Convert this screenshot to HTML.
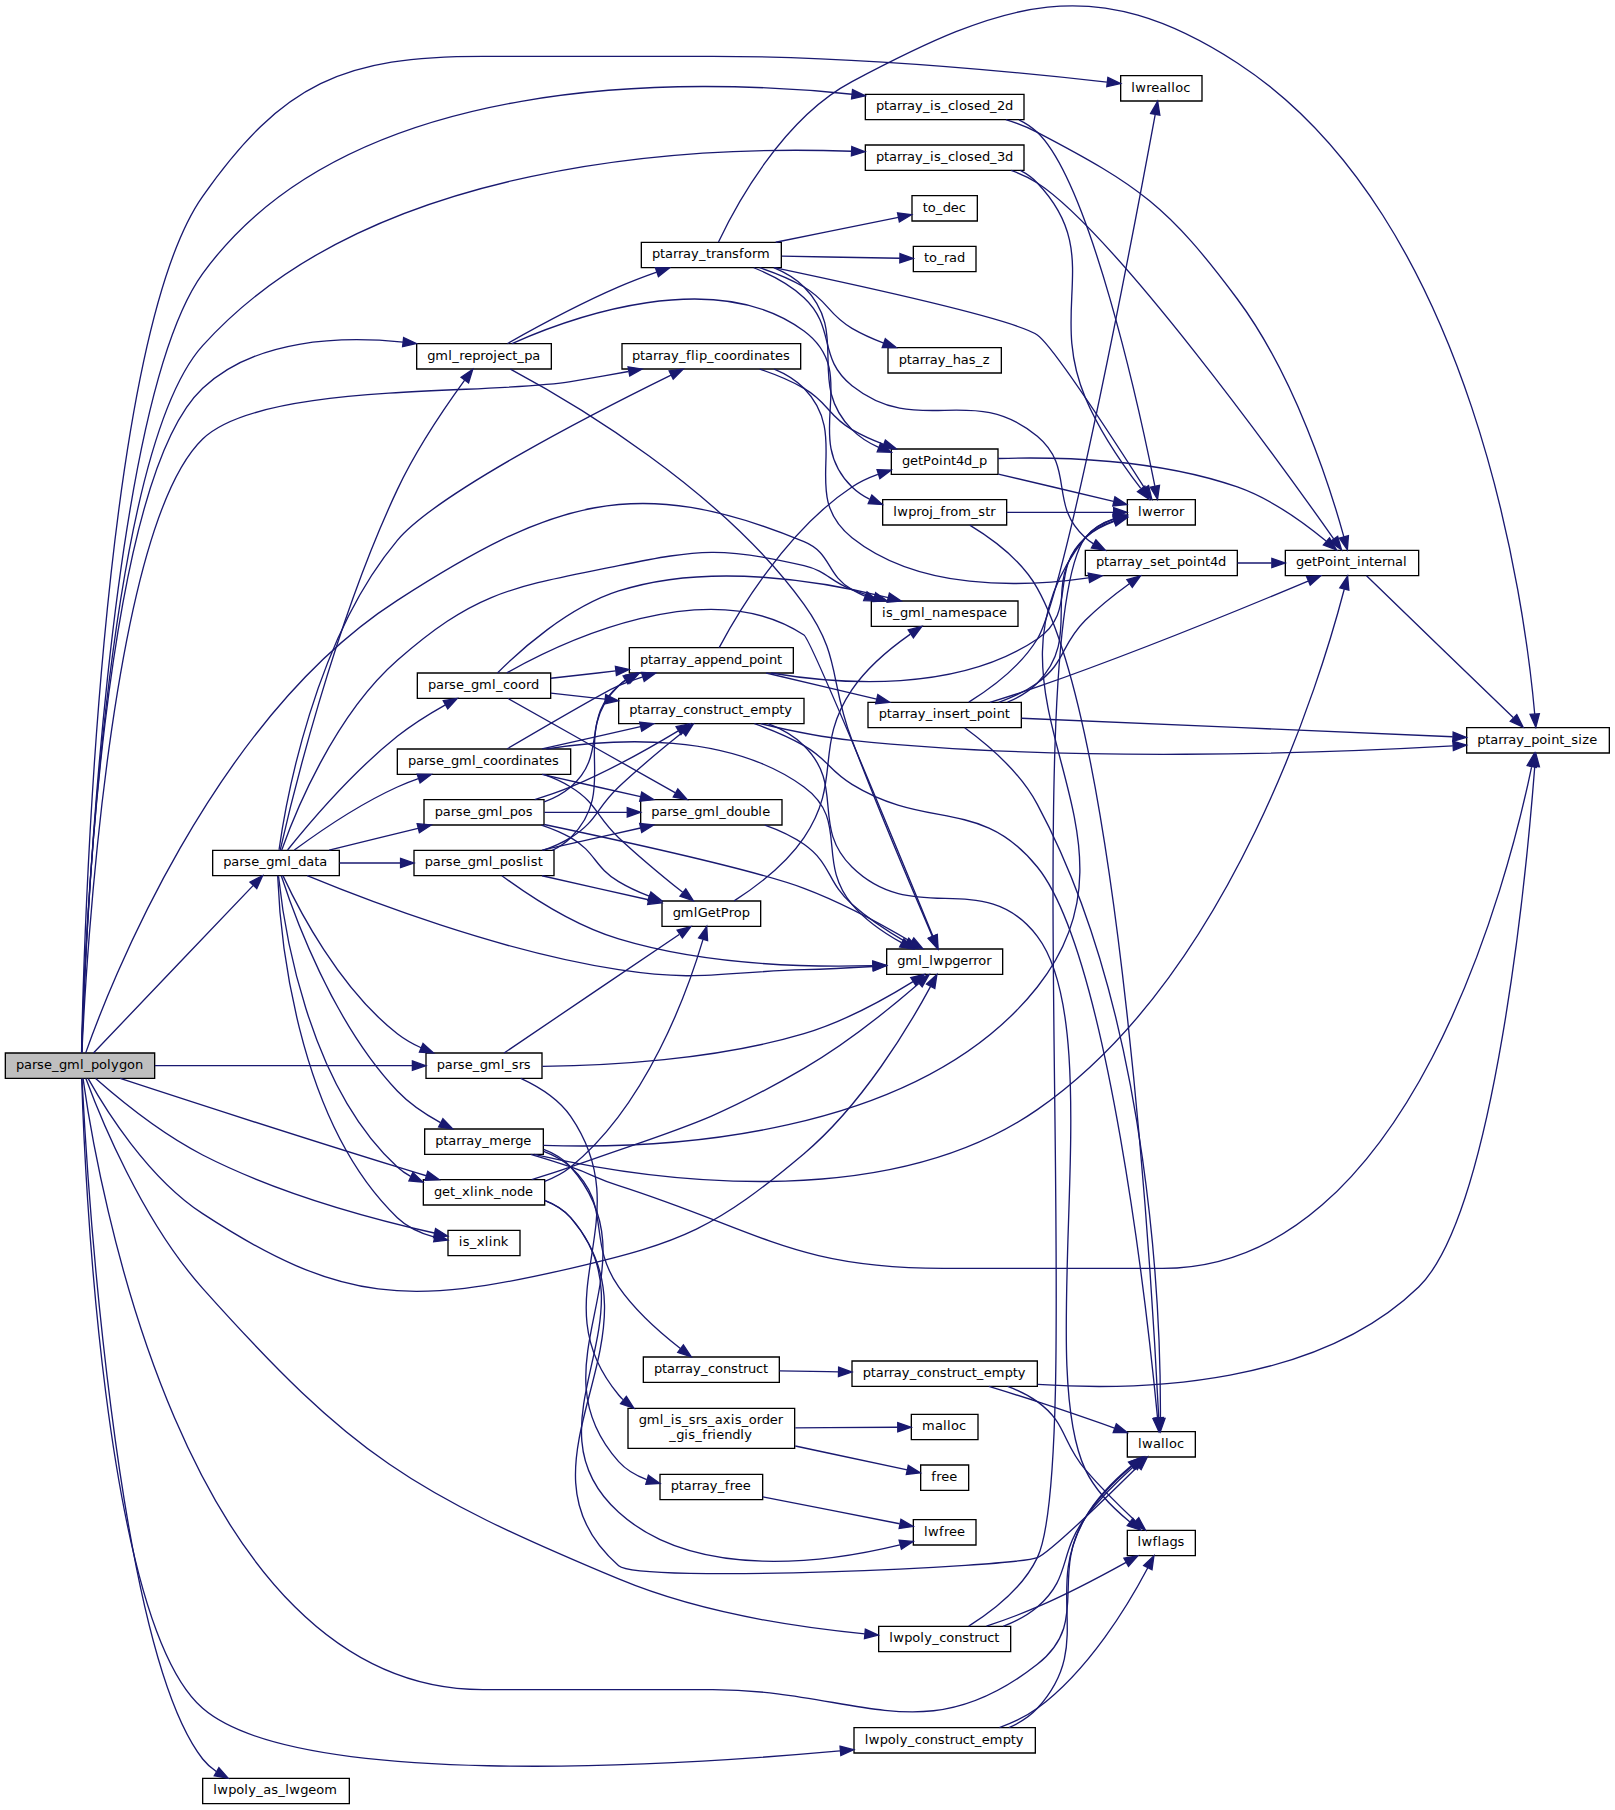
<!DOCTYPE html>
<html lang="en">
<head>
<meta charset="utf-8">
<title>parse_gml_polygon call graph</title>
<style>
html,body{margin:0;padding:0;background:#fff;}
body{width:1615px;height:1810px;overflow:hidden;}
svg{display:block;}
svg text{font-family:"DejaVu Sans","Liberation Sans",sans-serif;font-size:9.75px;fill:#000;text-anchor:start;}
</style>
</head>
<body>
<svg width="1615" height="1810" viewBox="0 0 1211.25 1357.5">
<g id="graph0" class="graph" transform="scale(1 1) rotate(0) translate(4 1353.24)">
<polygon fill="white" stroke="none" points="-4,4 -4,-1353.24 1207,-1353.24 1207,4 -4,4"/>
<g class="node">
<polygon fill="#bfbfbf" stroke="black" points="0,-544.5 0,-563.5 112,-563.5 112,-544.5 0,-544.5"/>
<text x="8 14 20 23.75 29 35 40.25 46.25 56 59 64.25 70.25 76.25 79.25 85.25 91.25 97.25" y="-551.50">parse_gml_polygon</text>
</g>
<g class="node">
<polygon fill="white" stroke="black" points="313.5,-449.5 313.5,-468.5 404.5,-468.5 404.5,-449.5 313.5,-449.5"/>
<text x="321.5 327.5 333.5 337.25 342.5 348.5 351.5 354.5 360.5 366.5 371.75 377.75 383.75 389.75" y="-456.50">get_xlink_node</text>
</g>
<g class="edge">
<path fill="none" stroke="midnightblue" d="M86.12,-544.44C130.77,-529.82 218.86,-501.2 294,-478 301,-475.84 308.45,-473.58 315.7,-471.42"/>
<polygon fill="midnightblue" stroke="midnightblue" points="316.81,-474.74 325.4,-468.53 314.82,-468.03 316.81,-474.74"/>
</g>
<g class="node">
<polygon fill="white" stroke="black" points="661,-622.5 661,-641.5 748,-641.5 748,-622.5 661,-622.5"/>
<text x="668.875 674.875 684.625 687.625 692.875 695.875 704.125 710.125 716.125 722.125 725.875 729.625 735.625" y="-629.50">gml_lwpgerror</text>
</g>
<g class="edge">
<path fill="none" stroke="midnightblue" d="M62.17,-544.3C74.21,-522.68 106.28,-470.27 148,-443 251.8,-375.15 303.21,-373.92 424,-402 508.41,-421.62 532.71,-432.18 599,-488 642.73,-524.83 677.85,-583.67 693.95,-613.45"/>
<polygon fill="midnightblue" stroke="midnightblue" points="690.9,-615.16 698.67,-622.36 697.08,-611.88 690.9,-615.16"/>
</g>
<g class="node">
<polygon fill="white" stroke="black" points="649.5,-883.5 649.5,-902.5 759.5,-902.5 759.5,-883.5 649.5,-883.5"/>
<text x="657.438 660.438 665.688 670.938 676.938 686.688 689.688 694.938 700.938 706.938 716.688 722.688 727.938 733.938 739.938 745.188" y="-890.50">is_gml_namespace</text>
</g>
<g class="edge">
<path fill="none" stroke="midnightblue" d="M60.27,-563.57C76.66,-610.02 154.78,-813.47 294,-903 409.2,-977.08 472.47,-999.41 599,-947 619.91,-938.34 615.38,-922.27 635,-911 638.08,-909.23 641.34,-907.63 644.69,-906.19"/>
<polygon fill="midnightblue" stroke="midnightblue" points="646.24,-909.35 654.33,-902.52 643.74,-902.81 646.24,-909.35"/>
</g>
<g class="node">
<polygon fill="white" stroke="black" points="841.5,-260.5 841.5,-279.5 892.5,-279.5 892.5,-260.5 841.5,-260.5"/>
<text x="849.469 852.469 860.719 866.719 869.719 872.719 878.719" y="-267.50">lwalloc</text>
</g>
<g class="edge">
<path fill="none" stroke="midnightblue" d="M58.28,-544.23C67.66,-477.02 131.95,-86 358,-86 358,-86 358,-86 530.5,-86 639.05,-86 688.66,-37.92 774,-105 814.44,-136.79 782.88,-171.29 810,-215 819.25,-229.91 833.36,-243.73 845.1,-253.79"/>
<polygon fill="midnightblue" stroke="midnightblue" points="843.19,-256.75 853.13,-260.41 847.64,-251.35 843.19,-256.75"/>
</g>
<g class="node">
<polygon fill="white" stroke="black" points="308.5,-1076.5 308.5,-1095.5 409.5,-1095.5 409.5,-1076.5 308.5,-1076.5"/>
<text x="316.438 322.438 332.188 335.188 340.438 344.188 350.188 356.188 359.938 365.938 368.938 374.938 380.188 383.938 389.188 395.188" y="-1083.50">gml_reproject_pa</text>
</g>
<g class="edge">
<path fill="none" stroke="midnightblue" d="M57.23,-563.84C58.94,-628.35 71.89,-990.57 148,-1062 187.51,-1099.08 251.31,-1101.37 298.23,-1096.67"/>
<polygon fill="midnightblue" stroke="midnightblue" points="298.73,-1100.13 308.27,-1095.53 297.94,-1093.18 298.73,-1100.13"/>
</g>
<g class="node">
<polygon fill="white" stroke="black" points="332,-411.5 332,-430.5 386,-430.5 386,-411.5 332,-411.5"/>
<text x="340.062 343.062 348.312 353.562 359.562 362.562 365.562 371.562" y="-418.50">is_xlink</text>
</g>
<g class="edge">
<path fill="none" stroke="midnightblue" d="M67.72,-544.28C83.99,-529.97 116.39,-503.18 148,-487 205.51,-457.56 278.65,-438.22 321.69,-428.48"/>
<polygon fill="midnightblue" stroke="midnightblue" points="322.69,-431.84 331.7,-426.27 321.18,-425.01 322.69,-431.84"/>
</g>
<g class="node">
<polygon fill="white" stroke="black" points="148,-0.5 148,-19.5 258,-19.5 258,-0.5 148,-0.5"/>
<text x="155.938 158.938 167.188 173.188 179.188 182.188 188.188 193.438 199.438 204.688 209.938 212.938 221.188 227.188 233.188 239.188" y="-7.50">lwpoly_as_lwgeom</text>
</g>
<g class="edge">
<path fill="none" stroke="midnightblue" d="M57.48,-544.2C60.81,-479.88 82.29,-118.16 148,-34 150.85,-30.35 154.37,-27.25 158.23,-24.6"/>
<polygon fill="midnightblue" stroke="midnightblue" points="160.18,-27.52 167.13,-19.53 156.71,-21.44 160.18,-27.52"/>
</g>
<g class="node">
<polygon fill="white" stroke="black" points="655,-114.5 655,-133.5 754,-133.5 754,-114.5 655,-114.5"/>
<text x="662.875 665.875 674.125 680.125 686.125 689.125 695.125 700.375 705.625 711.625 717.625 722.875 726.625 730.375 736.375 741.625" y="-121.50">lwpoly_construct</text>
</g>
<g class="edge">
<path fill="none" stroke="midnightblue" d="M60.42,-544.38C70.45,-517.19 101.98,-438.43 148,-387 260.8,-260.94 303.95,-234.3 460,-169 519.92,-143.93 593.93,-132.78 644.53,-127.85"/>
<polygon fill="midnightblue" stroke="midnightblue" points="645,-131.32 654.64,-126.91 644.36,-124.35 645,-131.32"/>
</g>
<g class="node">
<polygon fill="white" stroke="black" points="636.5,-38.5 636.5,-57.5 772.5,-57.5 772.5,-38.5 636.5,-38.5"/>
<text x="644.5 647.5 655.75 661.75 667.75 670.75 676.75 682 687.25 693.25 699.25 704.5 708.25 712 718 723.25 727 732.25 738.25 748 754 757.75" y="-45.50">lwpoly_construct_empty</text>
</g>
<g class="edge">
<path fill="none" stroke="midnightblue" d="M57.27,-544.2C59.2,-481.47 73.16,-136.81 148,-72 217.39,-11.91 490.23,-27.85 625.96,-40.03"/>
<polygon fill="midnightblue" stroke="midnightblue" points="626.01,-43.54 636.28,-40.97 626.64,-36.57 626.01,-43.54"/>
</g>
<g class="node">
<polygon fill="white" stroke="black" points="836.5,-1277.5 836.5,-1296.5 897.5,-1296.5 897.5,-1277.5 836.5,-1277.5"/>
<text x="844.5 847.5 855.75 859.5 865.5 871.5 874.5 877.5 883.5" y="-1284.50">lwrealloc</text>
</g>
<g class="edge">
<path fill="none" stroke="midnightblue" d="M57.16,-563.76C58.56,-636.63 70.38,-1096.06 148,-1206 208.19,-1291.24 253.65,-1311 358,-1311 358,-1311 358,-1311 530.5,-1311 637.59,-1311 763.42,-1298.68 826.19,-1291.7"/>
<polygon fill="midnightblue" stroke="midnightblue" points="826.89,-1295.14 836.43,-1290.54 826.1,-1288.18 826.89,-1295.14"/>
</g>
<g class="node">
<polygon fill="white" stroke="black" points="155.5,-696.5 155.5,-715.5 250.5,-715.5 250.5,-696.5 155.5,-696.5"/>
<text x="163.438 169.438 175.438 179.188 184.438 190.438 195.688 201.688 211.438 214.438 219.688 225.688 231.688 235.438" y="-703.50">parse_gml_data</text>
</g>
<g class="edge">
<path fill="none" stroke="midnightblue" d="M66.07,-563.51C90.08,-588.67 155.51,-657.26 185.98,-689.21"/>
<polygon fill="midnightblue" stroke="midnightblue" points="183.5,-691.68 192.93,-696.5 188.56,-686.84 183.5,-691.68"/>
</g>
<g class="node">
<polygon fill="white" stroke="black" points="315.5,-544.5 315.5,-563.5 402.5,-563.5 402.5,-544.5 315.5,-544.5"/>
<text x="323.562 329.562 335.562 339.312 344.562 350.562 355.812 361.812 371.562 374.562 379.812 385.062 388.812" y="-551.50">parse_gml_srs</text>
</g>
<g class="edge">
<path fill="none" stroke="midnightblue" d="M112.21,-554C167.22,-554 251.08,-554 305.22,-554"/>
<polygon fill="midnightblue" stroke="midnightblue" points="305.3,-557.5 315.3,-554 305.3,-550.5 305.3,-557.5"/>
</g>
<g class="node">
<polygon fill="white" stroke="black" points="462.5,-1076.5 462.5,-1095.5 596.5,-1095.5 596.5,-1076.5 462.5,-1076.5"/>
<text x="469.969 475.969 479.719 485.719 489.469 493.219 499.219 505.219 510.469 514.219 517.219 520.219 526.219 531.469 536.719 542.719 548.719 552.469 558.469 561.469 567.469 573.469 577.219 583.219" y="-1083.50">ptarray_flip_coordinates</text>
</g>
<g class="edge">
<path fill="none" stroke="midnightblue" d="M57.42,-563.85C60.25,-625.45 78.59,-957.09 148,-1024 192.69,-1067.08 362.79,-1056.67 424,-1067 438.05,-1069.37 453.13,-1072.04 467.35,-1074.61"/>
<polygon fill="midnightblue" stroke="midnightblue" points="467.05,-1078.12 477.52,-1076.46 468.31,-1071.23 467.05,-1078.12"/>
</g>
<g class="node">
<polygon fill="white" stroke="black" points="645,-1263.5 645,-1282.5 764,-1282.5 764,-1263.5 645,-1263.5"/>
<text x="652.938 658.938 662.688 668.688 672.438 676.188 682.188 688.188 693.438 696.438 701.688 706.938 712.188 715.188 721.188 726.438 732.438 738.438 743.688 749.688" y="-1270.50">ptarray_is_closed_2d</text>
</g>
<g class="edge">
<path fill="none" stroke="midnightblue" d="M57.3,-563.77C59.59,-632.94 76.24,-1048.93 148,-1148 258.55,-1300.62 512.51,-1295.25 634.98,-1282.56"/>
<polygon fill="midnightblue" stroke="midnightblue" points="635.42,-1286.03 644.99,-1281.48 634.67,-1279.08 635.42,-1286.03"/>
</g>
<g class="node">
<polygon fill="white" stroke="black" points="645,-1225.5 645,-1244.5 764,-1244.5 764,-1225.5 645,-1225.5"/>
<text x="652.938 658.938 662.688 668.688 672.438 676.188 682.188 688.188 693.438 696.438 701.688 706.938 712.188 715.188 721.188 726.438 732.438 738.438 743.688 749.688" y="-1232.50">ptarray_is_closed_3d</text>
</g>
<g class="edge">
<path fill="none" stroke="midnightblue" d="M57.26,-563.87C59.24,-630.25 73.74,-1011.5 148,-1094 273.65,-1233.58 515.99,-1243.99 634.65,-1239.82"/>
<polygon fill="midnightblue" stroke="midnightblue" points="634.85,-1243.31 644.7,-1239.42 634.57,-1236.32 634.85,-1243.31"/>
</g>
<g class="edge">
<path fill="none" stroke="midnightblue" d="M394.77,-468.56C404.32,-471.39 414.62,-474.64 424,-478 503.49,-506.51 526,-509.55 599,-552 631.32,-570.79 665.01,-598.25 685.12,-615.61"/>
<polygon fill="midnightblue" stroke="midnightblue" points="683.04,-618.43 692.87,-622.38 687.64,-613.16 683.04,-618.43"/>
</g>
<g class="node">
<polygon fill="white" stroke="black" points="492.5,-658.5 492.5,-677.5 566.5,-677.5 566.5,-658.5 492.5,-658.5"/>
<text x="500.531 506.531 516.281 519.281 526.781 532.781 536.531 542.531 546.281 552.281" y="-665.50">gmlGetProp</text>
</g>
<g class="edge">
<path fill="none" stroke="midnightblue" d="M404.58,-467.3C411.55,-469.94 418.31,-473.42 424,-478 481.09,-524.01 511.8,-609.99 523.22,-648.49"/>
<polygon fill="midnightblue" stroke="midnightblue" points="519.95,-649.76 526.05,-658.42 526.68,-647.84 519.95,-649.76"/>
</g>
<g class="edge">
<path fill="none" stroke="midnightblue" d="M404.54,-452.98C411.94,-450.12 418.86,-445.98 424,-440 500.3,-351.17 371.72,-255.94 460,-179 475.53,-165.46 757.13,-178.07 774,-185 783.08,-188.73 825.13,-229.5 849.12,-253.19"/>
<polygon fill="midnightblue" stroke="midnightblue" points="846.92,-255.94 856.48,-260.49 851.85,-250.97 846.92,-255.94"/>
</g>
<g class="node">
<polygon fill="white" stroke="black" points="681,-194.5 681,-213.5 728,-213.5 728,-194.5 681,-194.5"/>
<text x="688.938 691.938 700.188 703.938 707.688 713.688" y="-201.50">lwfree</text>
</g>
<g class="edge">
<path fill="none" stroke="midnightblue" d="M404.75,-452.75C412.04,-449.91 418.87,-445.83 424,-440 489.76,-365.3 386.2,-285.77 460,-219 518.03,-166.5 619.14,-181.97 670.91,-194.64"/>
<polygon fill="midnightblue" stroke="midnightblue" points="670.33,-198.11 680.88,-197.2 672.07,-191.33 670.33,-198.11"/>
</g>
<g class="edge">
<path fill="none" stroke="midnightblue" d="M546.61,-677.58C562.12,-687.58 585.21,-704.63 599,-725 628.08,-767.94 605.92,-793.06 635,-836 646.42,-852.87 664.22,-867.46 678.81,-877.66"/>
<polygon fill="midnightblue" stroke="midnightblue" points="677.14,-880.76 687.39,-883.42 681.04,-874.94 677.14,-880.76"/>
</g>
<g class="edge">
<path fill="none" stroke="midnightblue" d="M378.8,-1076.34C423.44,-1052.49 536.76,-986.38 599,-900 627.1,-861 617.83,-842.9 635,-798 655.52,-744.34 681.99,-681.92 695.21,-651.15"/>
<polygon fill="midnightblue" stroke="midnightblue" points="698.56,-652.23 699.31,-641.66 692.14,-649.46 698.56,-652.23"/>
</g>
<g class="node">
<polygon fill="white" stroke="black" points="658,-959.5 658,-978.5 751,-978.5 751,-959.5 658,-959.5"/>
<text x="665.875 668.875 677.125 683.125 686.875 692.875 695.875 701.125 704.875 708.625 714.625 724.375 729.625 734.875 738.625" y="-966.50">lwproj_from_str</text>
</g>
<g class="edge">
<path fill="none" stroke="midnightblue" d="M380.03,-1095.58C424.37,-1115.24 532.2,-1154.33 599,-1105 642.76,-1072.68 596,-1025.93 635,-988 638.83,-984.28 643.32,-981.27 648.14,-978.84"/>
<polygon fill="midnightblue" stroke="midnightblue" points="649.84,-981.93 657.73,-974.86 647.15,-975.46 649.84,-981.93"/>
</g>
<g class="node">
<polygon fill="white" stroke="black" points="477,-1152.5 477,-1171.5 582,-1171.5 582,-1152.5 477,-1152.5"/>
<text x="484.969 490.969 494.719 500.719 504.469 508.219 514.219 520.219 525.469 529.219 532.969 538.969 544.969 550.219 553.969 559.969 563.719" y="-1159.50">ptarray_transform</text>
</g>
<g class="edge">
<path fill="none" stroke="midnightblue" d="M376.63,-1095.58C396.19,-1106.63 429.83,-1124.95 460,-1138 469.1,-1141.94 479.07,-1145.72 488.53,-1149.07"/>
<polygon fill="midnightblue" stroke="midnightblue" points="487.54,-1152.43 498.13,-1152.4 489.83,-1145.82 487.54,-1152.43"/>
</g>
<g class="edge">
<path fill="none" stroke="midnightblue" d="M723.3,-959.35C739.37,-949.63 762.23,-933.07 774,-912 836.01,-801.02 860.21,-386.28 865.05,-290.04"/>
<polygon fill="midnightblue" stroke="midnightblue" points="868.55,-290.08 865.55,-279.92 861.56,-289.74 868.55,-290.08"/>
</g>
<g class="node">
<polygon fill="white" stroke="black" points="841.5,-959.5 841.5,-978.5 892.5,-978.5 892.5,-959.5 841.5,-959.5"/>
<text x="849.469 852.469 860.719 866.719 870.469 874.219 880.219" y="-966.50">lwerror</text>
</g>
<g class="edge">
<path fill="none" stroke="midnightblue" d="M751.06,-969C776.46,-969 807.6,-969 831.05,-969"/>
<polygon fill="midnightblue" stroke="midnightblue" points="831.24,-972.5 841.24,-969 831.24,-965.5 831.24,-972.5"/>
</g>
<g class="edge">
<path fill="none" stroke="midnightblue" d="M576.78,-1152.45C642.77,-1138.55 757.78,-1113.18 774,-1102 785.2,-1094.28 832.16,-1022.04 854.32,-987.38"/>
<polygon fill="midnightblue" stroke="midnightblue" points="857.44,-989 859.87,-978.69 851.54,-985.24 857.44,-989"/>
</g>
<g class="node">
<polygon fill="white" stroke="black" points="664.5,-997.5 664.5,-1016.5 744.5,-1016.5 744.5,-997.5 664.5,-997.5"/>
<text x="672.438 678.438 684.438 688.188 694.188 700.188 703.188 709.188 712.938 718.938 724.938 730.188" y="-1004.50">getPoint4d_p</text>
</g>
<g class="edge">
<path fill="none" stroke="midnightblue" d="M576.27,-1152.49C584.64,-1149.05 592.71,-1144.37 599,-1138 634.26,-1102.3 599.74,-1066.7 635,-1031 640.6,-1025.33 647.62,-1020.99 655.01,-1017.68"/>
<polygon fill="midnightblue" stroke="midnightblue" points="656.44,-1020.88 664.5,-1014.01 653.91,-1014.35 656.44,-1020.88"/>
</g>
<g class="node">
<polygon fill="white" stroke="black" points="1096,-788.5 1096,-807.5 1203,-807.5 1203,-788.5 1096,-788.5"/>
<text x="1103.938 1109.938 1113.688 1119.688 1123.438 1127.188 1133.188 1139.188 1144.438 1150.438 1156.438 1159.438 1165.438 1169.188 1174.438 1179.688 1182.688 1187.938" y="-795.50">ptarray_point_size</text>
</g>
<g class="edge">
<path fill="none" stroke="midnightblue" d="M534.87,-1171.75C546.74,-1196.92 582.28,-1264.1 635,-1292 748.66,-1352.15 816.25,-1376.19 924,-1306 1102.27,-1189.88 1140.01,-896.54 1147.04,-817.74"/>
<polygon fill="midnightblue" stroke="midnightblue" points="1150.53,-817.97 1147.86,-807.72 1143.55,-817.4 1150.53,-817.97"/>
</g>
<g class="node">
<polygon fill="white" stroke="black" points="662,-1073.5 662,-1092.5 747,-1092.5 747,-1073.5 662,-1073.5"/>
<text x="670 676 679.75 685.75 689.5 693.25 699.25 705.25 710.5 716.5 722.5 727.75 733" y="-1080.50">ptarray_has_z</text>
</g>
<g class="edge">
<path fill="none" stroke="midnightblue" d="M565.75,-1152.45C576.78,-1148.74 588.74,-1143.93 599,-1138 617.28,-1127.44 616.72,-1117.56 635,-1107 642.37,-1102.74 650.62,-1099.06 658.78,-1095.94"/>
<polygon fill="midnightblue" stroke="midnightblue" points="660.01,-1099.22 668.25,-1092.55 657.65,-1092.63 660.01,-1099.22"/>
</g>
<g class="node">
<polygon fill="white" stroke="black" points="810,-921.5 810,-940.5 924,-940.5 924,-921.5 810,-921.5"/>
<text x="817.969 823.969 827.719 833.719 837.469 841.219 847.219 853.219 858.469 863.719 869.719 873.469 878.719 884.719 890.719 893.719 899.719 903.469 909.469" y="-928.50">ptarray_set_point4d</text>
</g>
<g class="edge">
<path fill="none" stroke="midnightblue" d="M561.31,-1152.43C574.09,-1147.32 588.38,-1139.98 599,-1130 623.35,-1107.12 608.79,-1084.73 635,-1064 685.23,-1024.27 724.92,-1067.14 774,-1026 802.64,-1001.99 782.09,-974.86 810,-950 811.91,-948.3 813.98,-946.75 816.16,-945.33"/>
<polygon fill="midnightblue" stroke="midnightblue" points="817.89,-948.38 825.01,-940.54 814.55,-942.22 817.89,-948.38"/>
</g>
<g class="node">
<polygon fill="white" stroke="black" points="680,-1187.5 680,-1206.5 729,-1206.5 729,-1187.5 680,-1187.5"/>
<text x="688 691.75 697.75 703 709 715" y="-1194.50">to_dec</text>
</g>
<g class="edge">
<path fill="none" stroke="midnightblue" d="M577.77,-1171.56C606.92,-1177.46 643.6,-1184.88 669.81,-1190.18"/>
<polygon fill="midnightblue" stroke="midnightblue" points="669.15,-1193.62 679.65,-1192.17 670.54,-1186.76 669.15,-1193.62"/>
</g>
<g class="node">
<polygon fill="white" stroke="black" points="681,-1149.5 681,-1168.5 728,-1168.5 728,-1149.5 681,-1149.5"/>
<text x="688.938 692.688 698.688 703.938 707.688 713.688" y="-1156.50">to_rad</text>
</g>
<g class="edge">
<path fill="none" stroke="midnightblue" d="M582.41,-1161.1C611.14,-1160.6 645.98,-1160 670.9,-1159.57"/>
<polygon fill="midnightblue" stroke="midnightblue" points="670.99,-1163.06 680.92,-1159.39 670.87,-1156.07 670.99,-1163.06"/>
</g>
<g class="edge">
<path fill="none" stroke="midnightblue" d="M744.76,-997.7C771.19,-991.45 805.72,-983.27 831.17,-977.25"/>
<polygon fill="midnightblue" stroke="midnightblue" points="832.2,-980.6 841.13,-974.89 830.59,-973.79 832.2,-980.6"/>
</g>
<g class="node">
<polygon fill="white" stroke="black" points="960,-921.5 960,-940.5 1060,-940.5 1060,-921.5 960,-921.5"/>
<text x="968 974 980 983.75 989.75 995.75 998.75 1004.75 1008.5 1013.75 1016.75 1022.75 1026.5 1032.5 1036.25 1042.25 1048.25" y="-928.50">getPoint_internal</text>
</g>
<g class="edge">
<path fill="none" stroke="midnightblue" d="M744.62,-1009.37C789.31,-1010.78 864.02,-1009.13 924,-988 949.4,-979.05 974.52,-960.72 990.79,-947.25"/>
<polygon fill="midnightblue" stroke="midnightblue" points="993.1,-949.87 998.44,-940.72 988.56,-944.55 993.1,-949.87"/>
</g>
<g class="edge">
<path fill="none" stroke="midnightblue" d="M1020.89,-921.43C1043.97,-899.11 1101.63,-843.34 1130.88,-815.04"/>
<polygon fill="midnightblue" stroke="midnightblue" points="1133.58,-817.31 1138.33,-807.84 1128.71,-812.27 1133.58,-817.31"/>
</g>
<g class="edge">
<path fill="none" stroke="midnightblue" d="M924.13,-931C932.54,-931 941.23,-931 949.7,-931"/>
<polygon fill="midnightblue" stroke="midnightblue" points="949.89,-934.5 959.89,-931 949.89,-927.5 949.89,-934.5"/>
</g>
<g class="edge">
<path fill="none" stroke="midnightblue" d="M748.32,-133.54C757.49,-137.01 766.63,-141.69 774,-148 799.69,-169.97 789.71,-187.96 810,-215 820.66,-229.21 834.99,-243.21 846.48,-253.53"/>
<polygon fill="midnightblue" stroke="midnightblue" points="844.43,-256.38 854.25,-260.34 849.04,-251.12 844.43,-256.38"/>
</g>
<g class="edge">
<path fill="none" stroke="midnightblue" d="M722.55,-133.6C739.01,-143.92 763.03,-162 774,-185 810.64,-261.8 758.82,-882.02 810,-950 815.28,-957.02 823.29,-961.46 831.6,-964.28"/>
<polygon fill="midnightblue" stroke="midnightblue" points="830.8,-967.69 841.37,-966.89 832.61,-960.92 830.8,-967.69"/>
</g>
<g class="node">
<polygon fill="white" stroke="black" points="841.5,-186.5 841.5,-205.5 892.5,-205.5 892.5,-186.5 841.5,-186.5"/>
<text x="849.094 852.094 860.344 864.094 867.094 873.094 879.094" y="-193.50">lwflags</text>
</g>
<g class="edge">
<path fill="none" stroke="midnightblue" d="M735.87,-133.59C747.89,-137.66 761.74,-142.69 774,-148 797.09,-158 822.36,-171.38 840.57,-181.47"/>
<polygon fill="midnightblue" stroke="midnightblue" points="838.96,-184.58 849.4,-186.41 842.38,-178.47 838.96,-184.58"/>
</g>
<g class="edge">
<path fill="none" stroke="midnightblue" d="M752.72,-57.58C760.68,-61.01 768.22,-65.67 774,-72 818.2,-120.39 777.41,-158.14 810,-215 818.62,-230.03 832.49,-243.7 844.27,-253.65"/>
<polygon fill="midnightblue" stroke="midnightblue" points="842.39,-256.64 852.37,-260.2 846.8,-251.19 842.39,-256.64"/>
</g>
<g class="edge">
<path fill="none" stroke="midnightblue" d="M745.53,-57.57C755.42,-61.1 765.58,-65.8 774,-72 812.85,-100.61 842.55,-150.29 856.76,-177.27"/>
<polygon fill="midnightblue" stroke="midnightblue" points="853.77,-179.1 861.44,-186.41 860,-175.91 853.77,-179.1"/>
</g>
<g class="edge">
<path fill="none" stroke="midnightblue" d="M204.89,-696.08C208.59,-660.83 225.91,-540.38 294,-478 296.99,-475.26 300.36,-472.91 303.95,-470.9"/>
<polygon fill="midnightblue" stroke="midnightblue" points="305.65,-473.97 313.23,-466.57 302.69,-467.63 305.65,-473.97"/>
</g>
<g class="edge">
<path fill="none" stroke="midnightblue" d="M226.4,-696.45C270.25,-678.34 370.93,-639.59 460,-626 521.07,-616.68 537.25,-624.23 599,-626 615.85,-626.48 634.2,-627.4 650.77,-628.38"/>
<polygon fill="midnightblue" stroke="midnightblue" points="650.62,-631.88 660.82,-628.99 651.05,-624.89 650.62,-631.88"/>
</g>
<g class="edge">
<path fill="none" stroke="midnightblue" d="M207.25,-715.59C216.6,-741.88 246.05,-815.93 294,-858 354.32,-910.92 381.39,-912.89 460,-929 520.52,-941.4 538.87,-943.19 599,-929 616.41,-924.89 618.26,-917.31 635,-911 640.25,-909.02 645.8,-907.18 651.39,-905.48"/>
<polygon fill="midnightblue" stroke="midnightblue" points="652.77,-908.73 661.41,-902.59 650.83,-902 652.77,-908.73"/>
</g>
<g class="edge">
<path fill="none" stroke="midnightblue" d="M206.11,-715.52C214.36,-751.85 246.35,-884.84 294,-986 308.33,-1016.43 330.39,-1048.69 344.51,-1068.09"/>
<polygon fill="midnightblue" stroke="midnightblue" points="341.8,-1070.31 350.55,-1076.28 347.43,-1066.15 341.8,-1070.31"/>
</g>
<g class="edge">
<path fill="none" stroke="midnightblue" d="M204.25,-696.38C205.76,-658.02 216.57,-514.57 294,-440 301.58,-432.7 311.82,-428.19 321.9,-425.41"/>
<polygon fill="midnightblue" stroke="midnightblue" points="322.83,-428.79 331.81,-423.16 321.28,-421.96 322.83,-428.79"/>
</g>
<g class="node">
<polygon fill="white" stroke="black" points="309,-829.5 309,-848.5 409,-848.5 409,-829.5 309,-829.5"/>
<text x="317 323 329 332.75 338 344 349.25 355.25 365 368 373.25 378.5 384.5 390.5 394.25" y="-836.50">parse_gml_coord</text>
</g>
<g class="edge">
<path fill="none" stroke="midnightblue" d="M211.67,-715.74C226.34,-733.95 259.92,-773.77 294,-801 305.07,-809.85 318.41,-818.09 330.03,-824.62"/>
<polygon fill="midnightblue" stroke="midnightblue" points="328.45,-827.75 338.91,-829.47 331.81,-821.6 328.45,-827.75"/>
</g>
<g class="node">
<polygon fill="white" stroke="black" points="294,-772.5 294,-791.5 424,-791.5 424,-772.5 294,-772.5"/>
<text x="302 308 314 317.75 323 329 334.25 340.25 350 353 358.25 363.5 369.5 375.5 379.25 385.25 388.25 394.25 400.25 404 410" y="-779.50">parse_gml_coordinates</text>
</g>
<g class="edge">
<path fill="none" stroke="midnightblue" d="M216.77,-715.7C233.65,-728.14 264.7,-749.68 294,-763 299.01,-765.28 304.37,-767.36 309.77,-769.25"/>
<polygon fill="midnightblue" stroke="midnightblue" points="308.87,-772.64 319.47,-772.44 311.06,-765.99 308.87,-772.64"/>
</g>
<g class="node">
<polygon fill="white" stroke="black" points="314,-734.5 314,-753.5 404,-753.5 404,-734.5 314,-734.5"/>
<text x="322.062 328.062 334.062 337.812 343.062 349.062 354.312 360.312 370.062 373.062 378.312 384.312 390.312" y="-741.50">parse_gml_pos</text>
</g>
<g class="edge">
<path fill="none" stroke="midnightblue" d="M242.86,-715.59C263.09,-720.58 288.02,-726.73 309.5,-732.03"/>
<polygon fill="midnightblue" stroke="midnightblue" points="308.87,-735.48 319.42,-734.48 310.55,-728.69 308.87,-735.48"/>
</g>
<g class="node">
<polygon fill="white" stroke="black" points="306.5,-696.5 306.5,-715.5 411.5,-715.5 411.5,-696.5 306.5,-696.5"/>
<text x="314.562 320.562 326.562 330.312 335.562 341.562 346.812 352.812 362.562 365.562 370.812 376.812 382.812 388.062 391.062 394.062 399.312" y="-703.50">parse_gml_poslist</text>
</g>
<g class="edge">
<path fill="none" stroke="midnightblue" d="M250.62,-706C264.94,-706 280.92,-706 296.09,-706"/>
<polygon fill="midnightblue" stroke="midnightblue" points="296.43,-709.5 306.43,-706 296.43,-702.5 296.43,-709.5"/>
</g>
<g class="edge">
<path fill="none" stroke="midnightblue" d="M208.21,-696.5C219.04,-673.06 250.17,-611.91 294,-578 299.36,-573.85 305.51,-570.36 311.84,-567.44"/>
<polygon fill="midnightblue" stroke="midnightblue" points="313.28,-570.64 321.16,-563.56 310.58,-564.17 313.28,-570.64"/>
</g>
<g class="edge">
<path fill="none" stroke="midnightblue" d="M205.28,-715.95C210.3,-751.4 231.52,-873.44 294,-948 323.47,-983.17 443.25,-1044.43 499.3,-1071.93"/>
<polygon fill="midnightblue" stroke="midnightblue" points="497.84,-1075.11 508.36,-1076.35 500.91,-1068.82 497.84,-1075.11"/>
</g>
<g class="node">
<polygon fill="white" stroke="black" points="314.5,-487.5 314.5,-506.5 403.5,-506.5 403.5,-487.5 314.5,-487.5"/>
<text x="322.438 328.438 332.188 338.188 341.938 345.688 351.688 357.688 362.938 372.688 378.688 382.438 388.438" y="-494.50">ptarray_merge</text>
</g>
<g class="edge">
<path fill="none" stroke="midnightblue" d="M206.97,-696.37C216,-668.42 245.48,-586.08 294,-535 303.11,-525.41 315.16,-517.42 326.35,-511.27"/>
<polygon fill="midnightblue" stroke="midnightblue" points="328.19,-514.26 335.46,-506.55 324.97,-508.04 328.19,-514.26"/>
</g>
<g class="edge">
<path fill="none" stroke="midnightblue" d="M376.12,-848.58C417.11,-871.55 527.14,-924.48 599,-877 604.11,-873.63 672.3,-708.11 695.69,-651.07"/>
<polygon fill="midnightblue" stroke="midnightblue" points="698.96,-652.33 699.51,-641.75 692.48,-649.68 698.96,-652.33"/>
</g>
<g class="edge">
<path fill="none" stroke="midnightblue" d="M369.09,-848.53C385.43,-864.9 421.66,-897.77 460,-910 528.37,-931.8 612.83,-917.32 662.18,-905.02"/>
<polygon fill="midnightblue" stroke="midnightblue" points="663.06,-908.41 671.86,-902.52 661.31,-901.63 663.06,-908.41"/>
</g>
<g class="node">
<polygon fill="white" stroke="black" points="476.5,-734.5 476.5,-753.5 582.5,-753.5 582.5,-734.5 476.5,-734.5"/>
<text x="484.5 490.5 496.5 500.25 505.5 511.5 516.75 522.75 532.5 535.5 540.75 546.75 552.75 558.75 564.75 567.75" y="-741.50">parse_gml_double</text>
</g>
<g class="edge">
<path fill="none" stroke="midnightblue" d="M377.08,-829.37C406.6,-812.72 467.34,-778.48 502.26,-758.8"/>
<polygon fill="midnightblue" stroke="midnightblue" points="504.38,-761.62 511.37,-753.66 500.94,-755.52 504.38,-761.62"/>
</g>
<g class="node">
<polygon fill="white" stroke="black" points="468,-848.5 468,-867.5 591,-867.5 591,-848.5 468,-848.5"/>
<text x="475.969 481.969 485.719 491.719 495.469 499.219 505.219 511.219 516.469 522.469 528.469 534.469 540.469 546.469 552.469 557.719 563.719 569.719 572.719 578.719" y="-855.50">ptarray_append_point</text>
</g>
<g class="edge">
<path fill="none" stroke="midnightblue" d="M409.19,-844.55C424.39,-846.26 441.45,-848.18 457.81,-850.03"/>
<polygon fill="midnightblue" stroke="midnightblue" points="457.55,-853.52 467.88,-851.16 458.34,-846.57 457.55,-853.52"/>
</g>
<g class="node">
<polygon fill="white" stroke="black" points="460,-810.5 460,-829.5 599,-829.5 599,-810.5 460,-810.5"/>
<text x="468 474 477.75 483.75 487.5 491.25 497.25 503.25 508.5 513.75 519.75 525.75 531 534.75 538.5 544.5 549.75 553.5 558.75 564.75 574.5 580.5 584.25" y="-817.50">ptarray_construct_empty</text>
</g>
<g class="edge">
<path fill="none" stroke="midnightblue" d="M409.19,-833.45C421.93,-832.02 435.97,-830.43 449.82,-828.87"/>
<polygon fill="midnightblue" stroke="midnightblue" points="450.29,-832.34 459.84,-827.74 449.51,-825.38 450.29,-832.34"/>
</g>
<g class="edge">
<path fill="none" stroke="midnightblue" d="M569.66,-734.47C579.77,-730.92 590.26,-726.19 599,-720 619.9,-705.19 615.89,-692.05 635,-675 647.23,-664.1 662.54,-654.2 675.58,-646.66"/>
<polygon fill="midnightblue" stroke="midnightblue" points="677.59,-649.54 684.6,-641.6 674.17,-643.44 677.59,-649.54"/>
</g>
<g class="edge">
<path fill="none" stroke="midnightblue" d="M574.31,-848.5C626.6,-839.74 714.44,-833.51 774,-874 804.91,-895.01 782.09,-925.14 810,-950 816.14,-955.47 823.93,-959.38 831.73,-962.17"/>
<polygon fill="midnightblue" stroke="midnightblue" points="830.91,-965.58 841.49,-965.13 832.94,-958.88 830.91,-965.58"/>
</g>
<g class="edge">
<path fill="none" stroke="midnightblue" d="M535.39,-867.54C548.23,-891.63 585.42,-955.36 635,-988 640.89,-991.88 647.56,-994.97 654.37,-997.43"/>
<polygon fill="midnightblue" stroke="midnightblue" points="653.78,-1000.92 664.37,-1000.61 655.9,-994.25 653.78,-1000.92"/>
</g>
<g class="node">
<polygon fill="white" stroke="black" points="647,-807.5 647,-826.5 762,-826.5 762,-807.5 647,-807.5"/>
<text x="655 661 664.75 670.75 674.5 678.25 684.25 690.25 695.5 698.5 704.5 709.75 715.75 719.5 723.25 728.5 734.5 740.5 743.5 749.5" y="-814.50">ptarray_insert_point</text>
</g>
<g class="edge">
<path fill="none" stroke="midnightblue" d="M570.62,-848.49C595.32,-842.64 627.17,-835.09 653.5,-828.85"/>
<polygon fill="midnightblue" stroke="midnightblue" points="654.37,-832.24 663.29,-826.53 652.76,-825.43 654.37,-832.24"/>
</g>
<g class="edge">
<path fill="none" stroke="midnightblue" d="M719.53,-807.42C735.41,-795.78 760.78,-774.62 774,-750 860.73,-588.54 866.6,-357.82 866.32,-289.66"/>
<polygon fill="midnightblue" stroke="midnightblue" points="869.81,-289.48 866.22,-279.51 862.81,-289.55 869.81,-289.48"/>
</g>
<g class="edge">
<path fill="none" stroke="midnightblue" d="M751.65,-826.63C759.9,-830.06 767.82,-834.71 774,-841 809.75,-877.4 774.07,-913.78 810,-950 815.91,-955.96 823.76,-960.05 831.7,-962.86"/>
<polygon fill="midnightblue" stroke="midnightblue" points="830.73,-966.22 841.32,-965.69 832.71,-959.51 830.73,-966.22"/>
</g>
<g class="edge">
<path fill="none" stroke="midnightblue" d="M738.42,-826.52C749.76,-829.95 762.5,-833.97 774,-838 847.53,-863.77 932.12,-898.54 977.05,-917.42"/>
<polygon fill="midnightblue" stroke="midnightblue" points="975.96,-920.76 986.54,-921.42 978.68,-914.31 975.96,-920.76"/>
</g>
<g class="edge">
<path fill="none" stroke="midnightblue" d="M762.06,-814.57C844.99,-811.02 999.1,-804.41 1085.53,-800.7"/>
<polygon fill="midnightblue" stroke="midnightblue" points="1085.89,-804.19 1095.73,-800.26 1085.59,-797.2 1085.89,-804.19"/>
</g>
<g class="edge">
<path fill="none" stroke="midnightblue" d="M745.11,-826.53C755.11,-830.07 765.43,-834.79 774,-841 795.31,-856.44 791.41,-869.38 810,-888 820.02,-898.03 832.41,-907.77 842.99,-915.44"/>
<polygon fill="midnightblue" stroke="midnightblue" points="841.17,-918.44 851.35,-921.35 845.21,-912.72 841.17,-918.44"/>
</g>
<g class="edge">
<path fill="none" stroke="midnightblue" d="M722.63,-826.68C738.45,-836.53 761.35,-853.27 774,-874 795.11,-908.59 848.18,-1190.36 862.43,-1267.53"/>
<polygon fill="midnightblue" stroke="midnightblue" points="858.99,-1268.17 864.24,-1277.37 865.87,-1266.9 858.99,-1268.17"/>
</g>
<g class="edge">
<path fill="none" stroke="midnightblue" d="M561.79,-810.47C573.81,-806.21 587.41,-800.64 599,-794 616.83,-783.78 617.47,-775.72 635,-765 692.71,-729.71 731.45,-755.59 774,-703 827.11,-637.37 856.82,-365.43 864.18,-289.67"/>
<polygon fill="midnightblue" stroke="midnightblue" points="867.67,-289.89 865.14,-279.61 860.71,-289.23 867.67,-289.89"/>
</g>
<g class="edge">
<path fill="none" stroke="midnightblue" d="M566.48,-810.5C586.49,-805.7 611.95,-800.4 635,-798 796.69,-781.16 988.58,-788.31 1085.61,-793.82"/>
<polygon fill="midnightblue" stroke="midnightblue" points="1085.64,-797.33 1095.83,-794.41 1086.05,-790.34 1085.64,-797.33"/>
</g>
<g class="edge">
<path fill="none" stroke="midnightblue" d="M572.13,-810.44C581.88,-806.62 591.57,-801.32 599,-794 629.97,-763.46 603.96,-733.47 635,-703 682.07,-656.8 734.01,-703.46 774,-651 828.1,-580.02 771.82,-331.67 810,-251 817.44,-235.29 831.37,-221.58 843.47,-211.78"/>
<polygon fill="midnightblue" stroke="midnightblue" points="845.66,-214.51 851.46,-205.64 841.4,-208.96 845.66,-214.51"/>
</g>
<g class="edge">
<path fill="none" stroke="midnightblue" d="M405.76,-791.5C457.76,-799.57 542.7,-804.13 599,-763 633.12,-738.07 607.8,-707.34 635,-675 645.04,-663.07 659.25,-653.4 672.14,-646.27"/>
<polygon fill="midnightblue" stroke="midnightblue" points="673.96,-649.27 681.21,-641.53 670.72,-643.06 673.96,-649.27"/>
</g>
<g class="edge">
<path fill="none" stroke="midnightblue" d="M403.67,-772.4C410.74,-769.91 417.78,-766.82 424,-763 443.83,-750.83 443.03,-740.91 460,-725 475.51,-710.45 494.12,-695.09 508.02,-683.99"/>
<polygon fill="midnightblue" stroke="midnightblue" points="510.33,-686.62 516,-677.67 505.99,-681.13 510.33,-686.62"/>
</g>
<g class="edge">
<path fill="none" stroke="midnightblue" d="M402.52,-772.41C424.96,-767.35 452.67,-761.1 476.39,-755.75"/>
<polygon fill="midnightblue" stroke="midnightblue" points="477.3,-759.13 486.29,-753.52 475.76,-752.31 477.3,-759.13"/>
</g>
<g class="edge">
<path fill="none" stroke="midnightblue" d="M376.42,-791.65C402.52,-806.96 451.42,-835.43 460,-839 465.76,-841.4 471.91,-843.59 478.08,-845.56"/>
<polygon fill="midnightblue" stroke="midnightblue" points="477.15,-848.93 487.73,-848.48 479.17,-842.23 477.15,-848.93"/>
</g>
<g class="edge">
<path fill="none" stroke="midnightblue" d="M402.52,-791.59C424.96,-796.65 452.67,-802.9 476.39,-808.25"/>
<polygon fill="midnightblue" stroke="midnightblue" points="475.76,-811.69 486.29,-810.48 477.3,-804.87 475.76,-811.69"/>
</g>
<g class="edge">
<path fill="none" stroke="midnightblue" d="M404.14,-734.86C462.94,-722.44 563.66,-700.27 599,-687 627.79,-676.19 658.73,-659.16 679.41,-646.91"/>
<polygon fill="midnightblue" stroke="midnightblue" points="681.37,-649.81 688.14,-641.66 677.77,-643.81 681.37,-649.81"/>
</g>
<g class="edge">
<path fill="none" stroke="midnightblue" d="M402.09,-734.48C409.64,-731.95 417.24,-728.83 424,-725 442.89,-714.3 441.38,-703.15 460,-692 467.07,-687.77 475,-684.13 482.89,-681.06"/>
<polygon fill="midnightblue" stroke="midnightblue" points="484.22,-684.3 492.43,-677.6 481.83,-677.72 484.22,-684.3"/>
</g>
<g class="edge">
<path fill="none" stroke="midnightblue" d="M404.27,-744C423.21,-744 445.65,-744 466.21,-744"/>
<polygon fill="midnightblue" stroke="midnightblue" points="466.45,-747.5 476.45,-744 466.45,-740.5 466.45,-747.5"/>
</g>
<g class="edge">
<path fill="none" stroke="midnightblue" d="M404.16,-751.76C411.34,-754.46 418.28,-758.1 424,-763 452.38,-787.32 431.4,-814.94 460,-839 462.02,-840.7 464.19,-842.25 466.46,-843.67"/>
<polygon fill="midnightblue" stroke="midnightblue" points="465.16,-846.94 475.64,-848.46 468.4,-840.73 465.16,-846.94"/>
</g>
<g class="edge">
<path fill="none" stroke="midnightblue" d="M397.02,-753.55C405.98,-756.25 415.44,-759.44 424,-763 452.79,-774.97 483.95,-792.63 504.68,-805.12"/>
<polygon fill="midnightblue" stroke="midnightblue" points="503.06,-808.23 513.42,-810.45 506.71,-802.26 503.06,-808.23"/>
</g>
<g class="edge">
<path fill="none" stroke="midnightblue" d="M372.41,-696.44C390.51,-683.1 425.76,-659.36 460,-649 523.43,-629.8 600.22,-627.72 650.39,-629"/>
<polygon fill="midnightblue" stroke="midnightblue" points="650.57,-632.51 660.68,-629.32 650.79,-625.51 650.57,-632.51"/>
</g>
<g class="edge">
<path fill="none" stroke="midnightblue" d="M402.52,-696.41C426.85,-690.92 457.4,-684.03 482.33,-678.41"/>
<polygon fill="midnightblue" stroke="midnightblue" points="483.29,-681.78 492.27,-676.17 481.75,-674.96 483.29,-681.78"/>
</g>
<g class="edge">
<path fill="none" stroke="midnightblue" d="M402.52,-715.59C424.96,-720.65 452.67,-726.9 476.39,-732.25"/>
<polygon fill="midnightblue" stroke="midnightblue" points="475.76,-735.69 486.29,-734.48 477.3,-728.87 475.76,-735.69"/>
</g>
<g class="edge">
<path fill="none" stroke="midnightblue" d="M410.24,-715.52C415.3,-717.99 420.03,-721.1 424,-725 461.89,-762.24 421.77,-802.1 460,-839 461.5,-840.45 463.1,-841.78 464.78,-843.02"/>
<polygon fill="midnightblue" stroke="midnightblue" points="463.37,-846.26 473.75,-848.42 466.98,-840.26 463.37,-846.26"/>
</g>
<g class="edge">
<path fill="none" stroke="midnightblue" d="M403.67,-715.6C410.74,-718.09 417.78,-721.18 424,-725 443.83,-737.17 443.03,-747.09 460,-763 475.51,-777.55 494.12,-792.91 508.02,-804.01"/>
<polygon fill="midnightblue" stroke="midnightblue" points="505.99,-806.87 516,-810.33 510.33,-801.38 505.99,-806.87"/>
</g>
<g class="edge">
<path fill="none" stroke="midnightblue" d="M402.8,-553.51C451.36,-554.03 532.44,-558.24 599,-578 628.88,-586.87 660.28,-604.36 680.76,-617.03"/>
<polygon fill="midnightblue" stroke="midnightblue" points="679.04,-620.08 689.36,-622.47 682.78,-614.17 679.04,-620.08"/>
</g>
<g class="edge">
<path fill="none" stroke="midnightblue" d="M374.08,-563.52C403.12,-583.17 469.93,-628.37 505.4,-652.37"/>
<polygon fill="midnightblue" stroke="midnightblue" points="503.86,-655.56 514.11,-658.26 507.79,-649.76 503.86,-655.56"/>
</g>
<g class="node">
<polygon fill="white" stroke="black" points="467,-267 467,-297 592,-297 592,-267 467,-267"/>
<text x="475 481 490.75 493.75 499 502 507.25 512.5 517.75 521.5 526.75 532 538 544 547 552.25 557.5 563.5 567.25 573.25 579.25" y="-285.00">gml_is_srs_axis_order</text>
<text x="498 503.25 509.25 512.25 517.5 522.75 526.5 530.25 533.25 539.25 545.25 551.25 554.25" y="-274.00">_gis_friendly</text>
</g>
<g class="edge">
<path fill="none" stroke="midnightblue" d="M386.58,-544.49C399.86,-538.38 414.99,-529.09 424,-516 477.44,-438.35 399.59,-379.35 460,-307 461.01,-305.79 462.09,-304.63 463.23,-303.53"/>
<polygon fill="midnightblue" stroke="midnightblue" points="465.75,-306 471.43,-297.06 461.41,-300.51 465.75,-306"/>
</g>
<g class="node">
<polygon fill="white" stroke="black" points="686.5,-235.5 686.5,-254.5 722.5,-254.5 722.5,-235.5 686.5,-235.5"/>
<text x="694.375 698.125 701.875 707.875" y="-242.50">free</text>
</g>
<g class="edge">
<path fill="none" stroke="midnightblue" d="M592.47,-268.75C621.26,-262.59 654.01,-255.59 676.43,-250.79"/>
<polygon fill="midnightblue" stroke="midnightblue" points="677.21,-254.2 686.25,-248.69 675.74,-247.36 677.21,-254.2"/>
</g>
<g class="node">
<polygon fill="white" stroke="black" points="679.5,-273.5 679.5,-292.5 729.5,-292.5 729.5,-273.5 679.5,-273.5"/>
<text x="687.438 697.188 703.188 706.188 709.188 715.188" y="-280.50">malloc</text>
</g>
<g class="edge">
<path fill="none" stroke="midnightblue" d="M592.47,-282.36C618.3,-282.51 647.31,-282.68 669.2,-282.8"/>
<polygon fill="midnightblue" stroke="midnightblue" points="669.3,-286.3 679.32,-282.86 669.34,-279.3 669.3,-286.3"/>
</g>
<g class="edge">
<path fill="none" stroke="midnightblue" d="M565.75,-1076.45C576.78,-1072.74 588.74,-1067.93 599,-1062 617.28,-1051.44 616.72,-1041.56 635,-1031 642.37,-1026.74 650.62,-1023.06 658.78,-1019.94"/>
<polygon fill="midnightblue" stroke="midnightblue" points="660.01,-1023.22 668.25,-1016.55 657.65,-1016.63 660.01,-1023.22"/>
</g>
<g class="edge">
<path fill="none" stroke="midnightblue" d="M576.69,-1076.41C584.93,-1072.98 592.84,-1068.32 599,-1062 635.49,-1024.55 594.05,-982.51 635,-950 684.83,-910.45 761.22,-912.5 812.36,-919.86"/>
<polygon fill="midnightblue" stroke="midnightblue" points="812.13,-923.37 822.55,-921.44 813.21,-916.45 812.13,-923.37"/>
</g>
<g class="edge">
<path fill="none" stroke="midnightblue" d="M403.57,-494.21C490.17,-491.34 683.39,-498.85 774,-613 867.65,-730.98 715.86,-832.41 810,-950 815.44,-956.8 823.42,-961.18 831.67,-963.99"/>
<polygon fill="midnightblue" stroke="midnightblue" points="830.76,-967.37 841.33,-966.63 832.6,-960.62 830.76,-967.37"/>
</g>
<g class="edge">
<path fill="none" stroke="midnightblue" d="M396.68,-487.48C474.23,-469.63 657.23,-439.86 774,-521 919.51,-622.11 986.76,-844.44 1004.23,-911.48"/>
<polygon fill="midnightblue" stroke="midnightblue" points="1000.84,-912.36 1006.69,-921.19 1007.63,-910.64 1000.84,-912.36"/>
</g>
<g class="edge">
<path fill="none" stroke="midnightblue" d="M394.04,-487.46C403.77,-484.58 414.35,-481.3 424,-478 440.24,-472.44 443.65,-469.24 460,-464 566.35,-429.92 591.82,-402 703.5,-402 703.5,-402 703.5,-402 868,-402 1054.3,-402 1128.04,-697.45 1144.67,-777.95"/>
<polygon fill="midnightblue" stroke="midnightblue" points="1141.33,-779.09 1146.72,-788.21 1148.2,-777.72 1141.33,-779.09"/>
</g>
<g class="node">
<polygon fill="white" stroke="black" points="478.5,-316.5 478.5,-335.5 580.5,-335.5 580.5,-316.5 478.5,-316.5"/>
<text x="486.469 492.469 496.219 502.219 505.969 509.719 515.719 521.719 526.969 532.219 538.219 544.219 549.469 553.219 556.969 562.969 568.219" y="-323.50">ptarray_construct</text>
</g>
<g class="edge">
<path fill="none" stroke="midnightblue" d="M403.76,-489.78C411.14,-487.03 418.26,-483.23 424,-478 455.83,-448.97 435.4,-423.36 460,-388 472.63,-369.84 491.54,-353.25 506.29,-341.81"/>
<polygon fill="midnightblue" stroke="midnightblue" points="508.53,-344.51 514.42,-335.7 504.32,-338.91 508.53,-344.51"/>
</g>
<g class="node">
<polygon fill="white" stroke="black" points="491,-228.5 491,-247.5 568,-247.5 568,-228.5 491,-228.5"/>
<text x="499.125 505.125 508.875 514.875 518.625 522.375 528.375 534.375 539.625 543.375 547.125 553.125" y="-235.50">ptarray_free</text>
</g>
<g class="edge">
<path fill="none" stroke="midnightblue" d="M403.77,-491.13C411.42,-488.27 418.64,-484.09 424,-478 489.76,-403.3 393.57,-331.1 460,-257 465.62,-250.73 473.12,-246.45 481.08,-243.55"/>
<polygon fill="midnightblue" stroke="midnightblue" points="482.33,-246.83 490.94,-240.65 480.36,-240.11 482.33,-246.83"/>
</g>
<g class="node">
<polygon fill="white" stroke="black" points="635,-313.5 635,-332.5 774,-332.5 774,-313.5 635,-313.5"/>
<text x="643 649 652.75 658.75 662.5 666.25 672.25 678.25 683.5 688.75 694.75 700.75 706 709.75 713.5 719.5 724.75 728.5 733.75 739.75 749.5 755.5 759.25" y="-320.50">ptarray_construct_empty</text>
</g>
<g class="edge">
<path fill="none" stroke="midnightblue" d="M580.54,-325.13C594.32,-324.89 609.62,-324.63 624.61,-324.37"/>
<polygon fill="midnightblue" stroke="midnightblue" points="624.97,-327.86 634.91,-324.19 624.85,-320.86 624.97,-327.86"/>
</g>
<g class="edge">
<path fill="none" stroke="midnightblue" d="M737.64,-313.42C749.14,-309.92 762.18,-305.87 774,-302 793.21,-295.72 814.54,-288.32 831.82,-282.23"/>
<polygon fill="midnightblue" stroke="midnightblue" points="833.23,-285.44 841.48,-278.81 830.89,-278.85 833.23,-285.44"/>
</g>
<g class="edge">
<path fill="none" stroke="midnightblue" d="M774.19,-314.92C853.9,-309.65 984.07,-314.4 1060,-388 1117.2,-443.44 1141.27,-703.6 1147.06,-778.05"/>
<polygon fill="midnightblue" stroke="midnightblue" points="1143.59,-778.64 1147.83,-788.34 1150.57,-778.11 1143.59,-778.64"/>
</g>
<g class="edge">
<path fill="none" stroke="midnightblue" d="M751.7,-313.43C759.58,-310.54 767.35,-306.82 774,-302 796.47,-285.73 792.03,-272.14 810,-251 821.65,-237.3 836.17,-223.11 847.5,-212.57"/>
<polygon fill="midnightblue" stroke="midnightblue" points="850.1,-214.94 855.11,-205.61 845.37,-209.78 850.1,-214.94"/>
</g>
<g class="edge">
<path fill="none" stroke="midnightblue" d="M568.04,-230.62C598.66,-224.6 641.49,-216.19 670.74,-210.44"/>
<polygon fill="midnightblue" stroke="midnightblue" points="671.72,-213.81 680.86,-208.45 670.37,-206.94 671.72,-213.81"/>
</g>
<g class="edge">
<path fill="none" stroke="midnightblue" d="M760.23,-1263.39C765.28,-1260.92 769.99,-1257.84 774,-1254 813.57,-1216.04 850.39,-1047.14 862.13,-988.85"/>
<polygon fill="midnightblue" stroke="midnightblue" points="865.62,-989.23 864.14,-978.74 858.76,-987.87 865.62,-989.23"/>
</g>
<g class="edge">
<path fill="none" stroke="midnightblue" d="M750.4,-1263.5C758.49,-1260.97 766.68,-1257.84 774,-1254 850.87,-1213.72 872.12,-1198.57 924,-1129 967.15,-1071.14 993.54,-988.02 1003.92,-950.58"/>
<polygon fill="midnightblue" stroke="midnightblue" points="1007.31,-951.47 1006.53,-940.9 1000.55,-949.65 1007.31,-951.47"/>
</g>
<g class="edge">
<path fill="none" stroke="midnightblue" d="M761.26,-1225.42C765.98,-1222.94 770.34,-1219.85 774,-1216 824.52,-1162.86 781.54,-1122.57 810,-1055 820.68,-1029.65 838.85,-1003.59 851.59,-986.9"/>
<polygon fill="midnightblue" stroke="midnightblue" points="854.63,-988.7 858.02,-978.66 849.11,-984.39 854.63,-988.7"/>
</g>
<g class="edge">
<path fill="none" stroke="midnightblue" d="M754.27,-1225.48C761.2,-1223.01 768,-1219.9 774,-1216 831.32,-1178.78 956.09,-1005.99 996.26,-949.17"/>
<polygon fill="midnightblue" stroke="midnightblue" points="999.26,-950.99 1002.16,-940.8 993.54,-946.96 999.26,-950.99"/>
</g>
</g>
</svg>

</body>
</html>
